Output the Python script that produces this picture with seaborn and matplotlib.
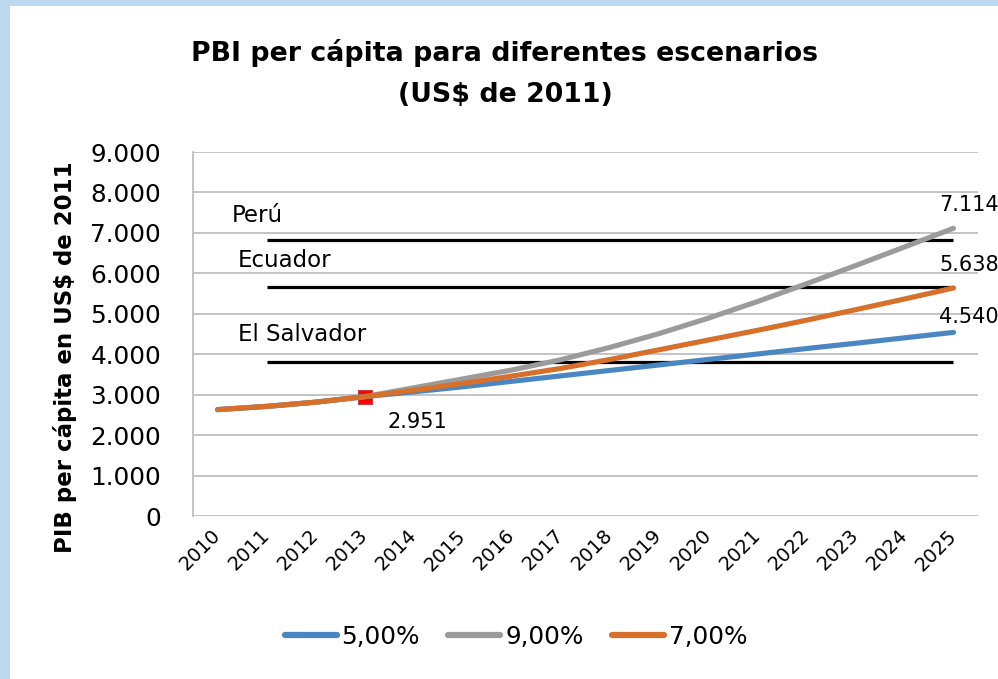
import matplotlib
matplotlib.use("Agg")
import matplotlib.pyplot as plt
import matplotlib.font_manager as fm
from matplotlib.patches import Rectangle
from matplotlib.lines import Line2D
from matplotlib.ticker import FuncFormatter
import pandas as pd
import seaborn as sns

# ---------------- data ----------------
years = list(range(2010, 2026))
scenarios = ["5,00%", "9,00%", "7,00%"]
esc_5 = [2630, 2710, 2815, 2951, 3070, 3195, 3330, 3465, 3600, 3735, 3870, 4005, 4140, 4270, 4405, 4540]
esc_9 = [2630, 2710, 2815, 2951, 3170, 3390, 3610, 3865, 4170, 4510, 4890, 5300, 5740, 6190, 6650, 7114]
esc_7 = [2630, 2710, 2815, 2951, 3110, 3280, 3460, 3650, 3870, 4110, 4350, 4590, 4840, 5100, 5365, 5638]

countries = ["Perú", "Ecuador", "El Salvador"]
country_values = [6825, 5655, 3808]
country_start, country_end = 2011, 2025

base_year, base_value = 2013, 2951

colors = {"5,00%": "#4A86C1", "9,00%": "#9B9B9B", "7,00%": "#D6702B"}

def fmt(v):
    return f"{int(round(v)):,}".replace(",", ".")

# ---------------- style ----------------
sns.set_theme(style="white")
plt.rcParams["font.family"] = ["DejaVu Sans"]
plt.rcParams["text.color"] = "black"
plt.rcParams["axes.labelcolor"] = "black"
names = {f.name for f in fm.fontManager.ttflist}
if "Liberation Sans Narrow" in names:
    title_font, title_size = "Liberation Sans Narrow", 25
else:
    title_font, title_size = "DejaVu Sans", 19.3

fig = plt.figure(figsize=(9.98, 6.79), dpi=100, facecolor="#BDD7EE")
fig.patches.append(Rectangle((10 / 998, 0), 1, 1 - 6 / 679, transform=fig.transFigure,
                             facecolor="white", edgecolor="none", zorder=-10))
ax = fig.add_axes([193 / 998, 163 / 679, 785 / 998, 364 / 679])
ax.set_zorder(1)
ax.set_facecolor("white")

df = pd.DataFrame({
    "Año": years * 3,
    "PIB": esc_5 + esc_9 + esc_7,
    "Escenario": [s for s in scenarios for _ in years],
})

# reference lines (countries)
ax.hlines(country_values, country_start, country_end, color="black", lw=2.3, zorder=1.5)

# base point marker (under the lines)
ax.scatter([base_year], [base_value], marker="s", s=90, color="#FF0000",
           edgecolor="#D04040", linewidth=0.8, zorder=1.8)

sns.lineplot(data=df, x="Año", y="PIB", hue="Escenario", hue_order=scenarios,
             palette=colors, linewidth=3.7, ax=ax, legend=False,
             solid_capstyle="round", zorder=2.5)

ax.set_xlim(2009.5, 2025.5)
ax.set_ylim(0, 9000)
ax.set_yticks(range(0, 9001, 1000))
ax.yaxis.set_major_formatter(FuncFormatter(lambda v, p: fmt(v)))
ax.set_xticks(years)
ax.set_xticklabels([str(y) for y in years], rotation=45, ha="right",
                   rotation_mode="anchor", va="center")
ax.tick_params(axis="y", length=0, pad=23, labelsize=17.8, labelcolor="black")
ax.tick_params(axis="x", length=0, pad=12, labelsize=14, labelcolor="black")

ax.set_axisbelow(True)
ax.yaxis.grid(True, color="#BFBFBF", lw=1.3)
ax.xaxis.grid(False)
for side in ["top", "right", "bottom"]:
    ax.spines[side].set_visible(False)
ax.spines["left"].set_color("#BFBFBF")
ax.spines["left"].set_linewidth(1.3)

ax.set_xlabel("")
ax.set_ylabel("PIB per cápita en US$ de 2011", fontsize=16.5, fontweight="bold", color="black")
ax.yaxis.set_label_coords(-0.148, 0.435)

# country labels
label_y = [7436, 6306, 4493]
label_x = [2010.3, 2010.42, 2010.42]
for name, lx, ly in zip(countries, label_x, label_y):
    ax.text(lx, ly, name, fontsize=16.5, ha="left", va="center", color="black")

# end labels
end_vals = [esc_9[-1], esc_7[-1], esc_5[-1]]
end_off = [16.5, 16.5, 11]
for v, off in zip(end_vals, end_off):
    ax.annotate(fmt(v), xy=(years[-1], v), xytext=(11, off), textcoords="offset points",
                ha="center", va="center", fontsize=15, color="black", annotation_clip=False)

ax.annotate(fmt(base_value), xy=(base_year, base_value), xytext=(38, -18),
            textcoords="offset points", ha="center", va="center", fontsize=15, color="black")

# title
fig.text(0.506, 0.8918, "PBI per cápita para diferentes escenarios\n(US$ de 2011)",
         ha="center", va="center", fontweight="bold", fontsize=title_size,
         family=title_font, linespacing=1.75, color="black")

# legend
handles = [Line2D([0], [0], color=colors[s], lw=4.5, solid_capstyle="round") for s in scenarios]
fig.legend(handles, scenarios, loc="center", bbox_to_anchor=(516 / 998, 1 - 637 / 679),
           ncol=3, frameon=False, fontsize=17.8, handlelength=2.1, handletextpad=0.2,
           columnspacing=1.15, labelcolor="black")

fig.savefig("out.png", dpi=100, facecolor=fig.get_facecolor())
